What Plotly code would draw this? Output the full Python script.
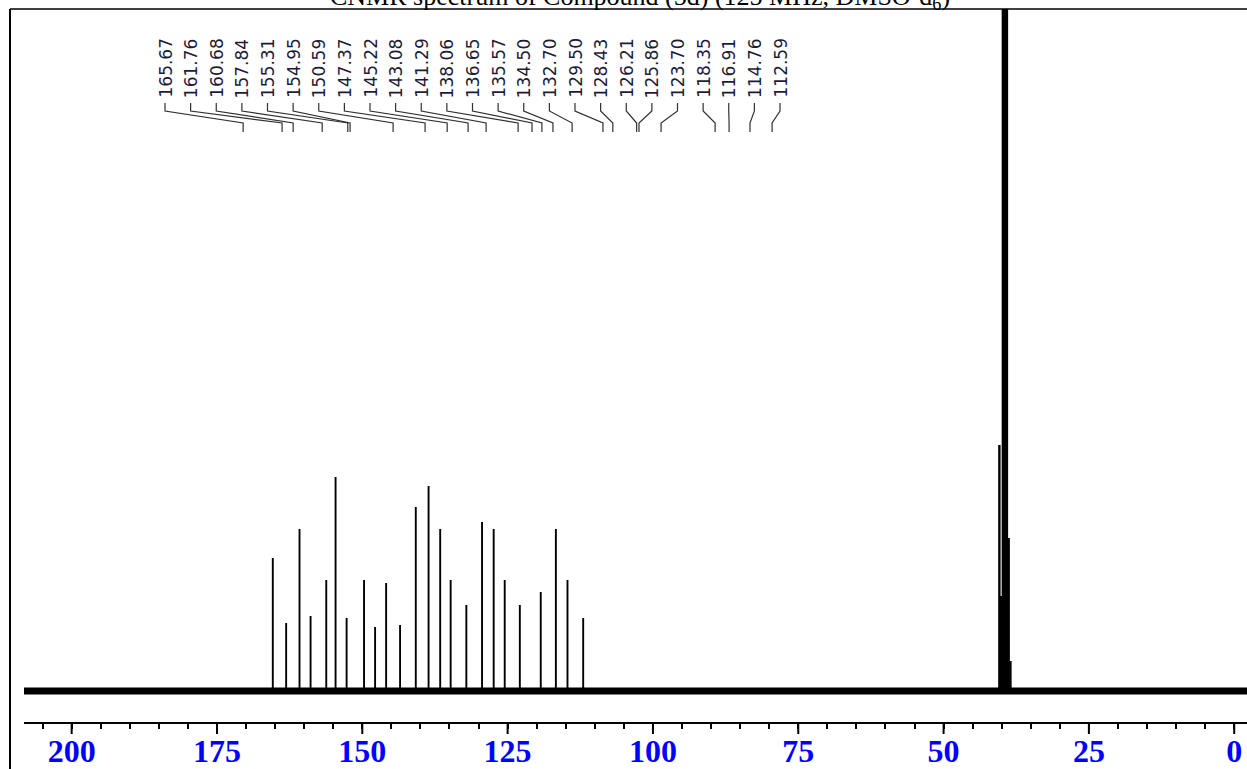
import plotly.graph_objects as go

# ---------------- data ----------------
peak_ppm = [165.4, 163.1, 160.8, 158.9, 156.2, 154.6, 152.7, 149.7, 147.8, 145.9,
            143.5, 140.8, 138.6, 136.6, 134.8, 132.1, 129.4, 127.4, 125.5, 122.9,
            119.3, 116.7, 114.7, 112.0]
peak_int = [133, 68, 162, 75, 111, 214, 73, 111, 64, 108,
            66, 184, 205, 162, 111, 86, 169, 162, 111, 86,
            99, 162, 111, 73]
solvent_ppm = [40.4, 40.1, 39.8, 39.45, 39.1, 38.8, 38.5]
solvent_int = [246, 95, 900, 900, 900, 153, 30]

shift_labels = ["165.67", "161.76", "160.68", "157.84", "155.31", "154.95", "150.59",
                "147.37", "145.22", "143.08", "141.29", "138.06", "136.65", "135.57",
                "134.50", "132.70", "129.50", "128.43", "126.21", "125.86", "123.70",
                "118.35", "116.91", "114.76", "112.59"]
leader_ppm = [170.5, 163.8, 161.9, 156.9, 152.5, 152.1, 144.7, 139.2, 135.4, 131.8,
              128.7, 123.2, 120.8, 119.1, 117.2, 113.9, 108.6, 106.9, 102.8, 102.4,
              98.6, 89.3, 86.9, 83.3, 79.5]
tick_vals = [0, 25, 50, 75, 100, 125, 150, 175, 200]
tick_text = ["0", "25", "50", "75", "100", "125", "150", "175", "200"]
title_text = "CNMR spectrum of Compound (5d) (125 MHz, DMSO-d<sub>6</sub>)"

# ---------------- layout geometry ----------------
W, H = 1247, 769
ML, MR, MT, MB = 24, 0, 9, 47
X0, X1 = 208.2, -2.2
PW = W - ML - MR
PH = H - MT - MB
BASE_PX = 691            # pixel row of zero intensity
Y0, Y1 = -(H - MB - BASE_PX), BASE_PX - MT


def px_to_ppm(px):
    return X0 - (px - ML) / PW * (X0 - X1)


def py_to_y(py):
    return BASE_PX - py


def sticks(ppms, ints):
    xs, ys = [], []
    for p, h in sorted(zip(ppms, ints), reverse=True):
        xs += [p, p, None]
        ys += [0, h, None]
    return xs, ys


# ---------------- traces ----------------
fig = go.Figure()
fig.add_trace(go.Scatter(x=[X0, X1], y=[0, 0], mode="lines",
                         line=dict(color="black", width=7), hoverinfo="skip",
                         showlegend=False))
px_, py_ = sticks(peak_ppm, peak_int)
fig.add_trace(go.Scatter(x=px_, y=py_, mode="lines",
                         line=dict(color="black", width=1.9), hoverinfo="skip",
                         showlegend=False))
sx_, sy_ = sticks(solvent_ppm, solvent_int)
fig.add_trace(go.Scatter(x=sx_, y=sy_, mode="lines",
                         line=dict(color="black", width=2.4), hoverinfo="skip",
                         showlegend=False))

# ---------------- peak labels + leader lines ----------------
annotations = []
shapes = []
lab_px0, lab_step = 165.0, 25.625
for i, (lab, anc) in enumerate(zip(shift_labels, leader_ppm)):
    xl = px_to_ppm(lab_px0 + lab_step * i)
    annotations.append(dict(x=xl, y=py_to_y(100), xref="x", yref="y", text=lab,
                            textangle=-90, showarrow=False, xanchor="center",
                            yanchor="bottom",
                            font=dict(family="DejaVu Sans", size=17, color="#1c1c38")))
    shapes.append(dict(type="path", xref="x", yref="y",
                       path=(f"M {xl},{py_to_y(103)} L {xl},{py_to_y(111)} "
                             f"L {anc},{py_to_y(123)} L {anc},{py_to_y(132)}"),
                       line=dict(color="#303030", width=1.2)))

# major ticks (drawn as short lines hanging below the axis)
for tv in tick_vals:
    shapes.append(dict(type="line", xref="x", yref="paper", x0=tv, x1=tv,
                       y0=0, y1=-12 / PH, line=dict(color="black", width=2)))

# title (clipped at the top of the page, as in the reference)
annotations.append(dict(x=(640 - ML) / PW, y=(H - MB - 16) / PH, xref="paper", yref="paper",
                        text=title_text, showarrow=False, xanchor="center",
                        yanchor="bottom",
                        font=dict(family="Liberation Serif", size=26, color="black")))

# frame lines (left and top)
fx = (10 - ML) / PW
shapes.append(dict(type="line", xref="paper", yref="paper", x0=fx, x1=fx,
                   y0=1.0, y1=(H - MB - H) / PH, line=dict(color="black", width=2)))
shapes.append(dict(type="line", xref="paper", yref="paper", x0=fx, x1=1.0,
                   y0=1.0, y1=1.0, line=dict(color="black", width=1.5)))

fig.update_layout(
    width=W, height=H,
    margin=dict(l=ML, r=MR, t=MT, b=MB, pad=0),
    paper_bgcolor="white", plot_bgcolor="white",
    showlegend=False,
    annotations=annotations, shapes=shapes,
    xaxis=dict(range=[X0, X1], showgrid=False, zeroline=False, automargin=False,
               showline=True, linecolor="black", linewidth=2,
               ticks="", tickvals=tick_vals, ticktext=tick_text,
               tickfont=dict(family="Liberation Serif", size=32, color="#0000ff",
                             weight="bold"),
               minor=dict(dtick=5, ticks="outside", ticklen=5, tickwidth=2,
                          tickcolor="black", showgrid=False)),
    yaxis=dict(range=[Y0, Y1], visible=False, showgrid=False, zeroline=False,
               automargin=False),
)

fig.write_html("out.html", config={"displayModeBar": False},
               post_script="document.body.style.margin='0px';"
                           "document.body.style.overflow='hidden';")
